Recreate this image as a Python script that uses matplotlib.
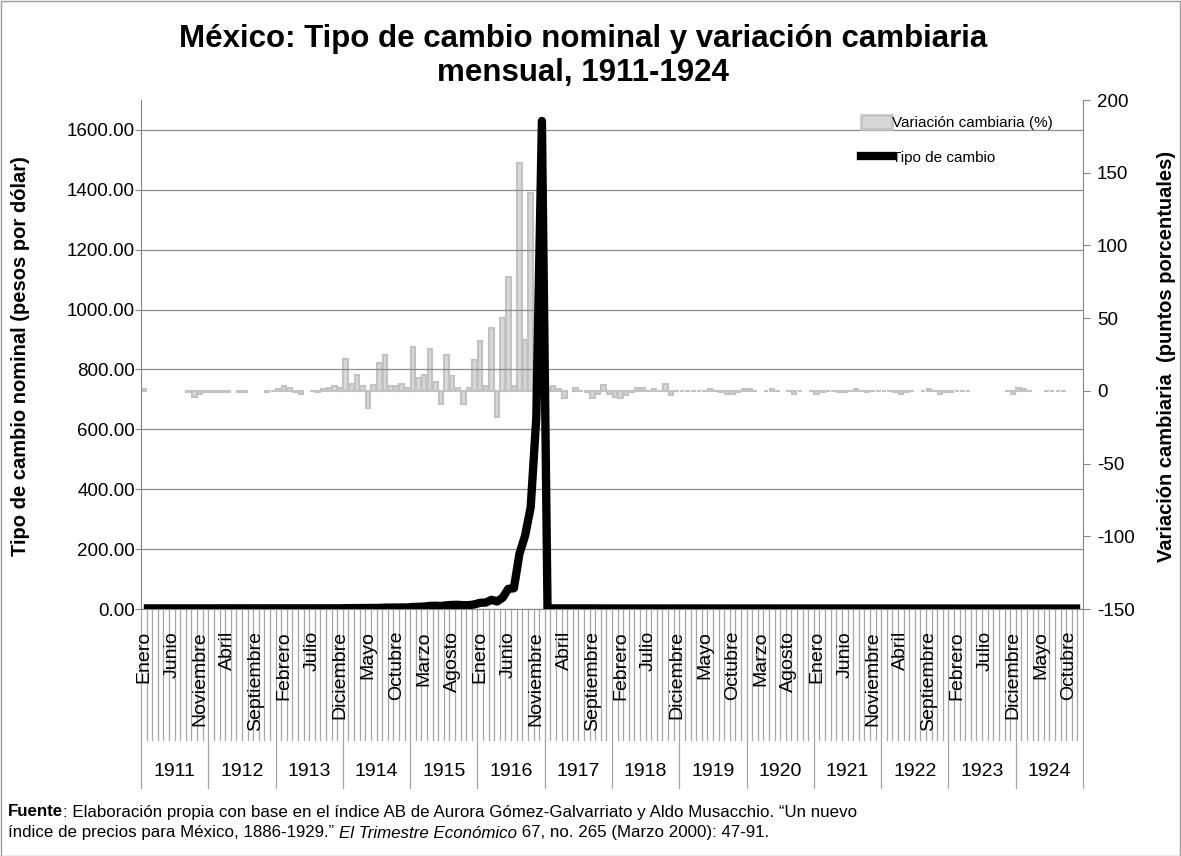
import matplotlib
matplotlib.use("Agg")
import matplotlib.pyplot as plt
import numpy as np
from matplotlib.lines import Line2D
from matplotlib.patches import Patch, Rectangle
from matplotlib.ticker import FixedLocator, FuncFormatter
from matplotlib.transforms import blended_transform_factory

# ── data (monthly, Jan 1911 - Dec 1924) ────────────────────────────────────
MESES = ["Enero", "Febrero", "Marzo", "Abril", "Mayo", "Junio", "Julio",
         "Agosto", "Septiembre", "Octubre", "Noviembre", "Diciembre"]
YEARS = list(range(1911, 1925))

# variación cambiaria, puntos porcentuales (None = no data in the chart)
VAR_1911 = [1, None, None, None, None, None, None, None, -1, -4, -2, -1]
VAR_1912 = [-1, -1, -1, -1, None, -1, -1, None, None, None, -1, 0]
VAR_1913 = [1, 3, 2, -1, -2, None, 0, -1, 1, 2, 3, 2]
VAR_1914 = [22, 5, 11, 3, -12, 4, 19, 25, 3, 3, 5, 2]
VAR_1915 = [30, 9, 11, 29, 6, -9, 25, 10, 2, -9, 2, 21]
VAR_1916 = [34, 3, 43, -18, 50, 78, 3, 157, 35, 136, None, None]
VAR_1917 = [2, 3, 1, -5, None, 2, 0, -1, -5, -2, 4, -2]
VAR_1918 = [-4, -5, -3, -1, 2, 2, 0, 1, 0, 5, -3, 0]
VAR_1919 = [0, 0, 0, 0, 0, 1, 0, -1, -2, -2, -1, 1]
VAR_1920 = [1, 0, None, 0, 1, 0, None, 0, -2, 0, None, 0]
VAR_1921 = [-2, -1, 0, 0, -1, -1, 0, 1, 0, -1, 0, 0]
VAR_1922 = [0, 0, -1, -2, -1, 0, None, 0, 1, 0, -2, -1]
VAR_1923 = [-1, 0, 0, 0, None, None, None, None, None, None, 0, -2]
VAR_1924 = [2, 1, 0, None, None, 0, 0, 0, 0, None, None, None]

# tipo de cambio nominal, pesos por dólar
TC_1911 = [2.01, 2.01, 2.01, 2.01, 2.01, 2.01, 2.01, 2.01, 2.0, 2.0, 2.0, 2.0]
TC_1912 = [2.0, 2.0, 2.0, 2.0, 2.0, 2.0, 2.0, 2.0, 2.0, 2.0, 2.0, 2.0]
TC_1913 = [2.0, 2.05, 2.1, 2.08, 2.05, 2.05, 2.05, 2.05, 2.08, 2.1, 2.2, 2.25]
TC_1914 = [2.8, 2.9, 3.2, 3.3, 2.9, 3.0, 3.6, 4.5, 4.6, 4.8, 5.0, 5.1]
TC_1915 = [6.6, 7.2, 8.0, 10.3, 10.9, 9.9, 12.4, 13.6, 13.9, 12.6, 12.9, 15.6]
TC_1916 = [20.9, 21.5, 30.7, 25.2, 37.8, 67.3, 69.3, 185, 245, 340, 640, 1630]
TC_1917 = [2.0, 2.05, 2.05, 1.95, 1.95, 2.0, 2.0, 2.0, 1.9, 1.85, 1.93, 1.9]
TC_1918 = [1.82, 1.73, 1.68, 1.66, 1.7, 1.73, 1.73, 1.75, 1.75, 1.84, 1.78, 1.78]
TC_1919 = [1.78, 1.78, 1.78, 1.78, 1.78, 1.8, 1.8, 1.78, 1.75, 1.71, 1.7, 1.72]
TC_1920 = [1.74, 1.74, 1.74, 1.74, 1.76, 1.76, 1.76, 1.76, 1.72, 1.72, 1.72, 1.72]
TC_1921 = [1.69, 1.67, 1.67, 1.67, 1.65, 1.63, 1.63, 1.65, 1.65, 1.63, 1.63, 1.63]
TC_1922 = [1.63, 1.63, 1.62, 1.59, 1.57, 1.57, 1.57, 1.57, 1.59, 1.59, 1.56, 1.54]
TC_1923 = [1.53, 1.53, 1.53, 1.53, 1.53, 1.53, 1.53, 1.53, 1.53, 1.53, 1.53, 1.5]
TC_1924 = [1.53, 1.55, 1.55, 1.55, 1.55, 1.55, 1.55, 1.55, 1.55, 1.55, 1.55, 1.55]

TITLE_1 = "México: Tipo de cambio nominal y variación cambiaria"
TITLE_2 = "mensual, 1911-1924"
YLABEL_L = "Tipo de cambio nominal (pesos por dólar)"
YLABEL_R = "Variación cambiaria  (puntos porcentuales)"

BAR_FACE = "#d8d8d8"
BAR_EDGE = "#c2c2c2"
GRID = "#8c8c8c"
AXIS = "#868686"
DIVIDER = "#a6a6a6"

plt.rcParams["font.family"] = ["Liberation Sans", "DejaVu Sans"]

var = [v for year in (VAR_1911, VAR_1912, VAR_1913, VAR_1914, VAR_1915,
                      VAR_1916, VAR_1917, VAR_1918, VAR_1919, VAR_1920,
                      VAR_1921, VAR_1922, VAR_1923, VAR_1924) for v in year]
tc = [v for year in (TC_1911, TC_1912, TC_1913, TC_1914, TC_1915, TC_1916,
                     TC_1917, TC_1918, TC_1919, TC_1920, TC_1921, TC_1922,
                     TC_1923, TC_1924) for v in year]
n = len(tc)
idx = np.arange(n)
has_var = np.array([v is not None for v in var])
var_vals = np.array([v if v is not None else 0 for v in var], dtype=float)

W, H = 1181, 856
fig = plt.figure(figsize=(W / 100, H / 100), dpi=100)
fig.patch.set_facecolor("white")

# plot area in pixels: x 141..1083, y 100..609
x0, x1, y0, y1 = 141, 1083, 100, 609
h_px, w_px = y1 - y0, x1 - x0
ax = fig.add_axes([x0 / W, 1 - y1 / H, w_px / W, h_px / H])
axl = ax.twinx()

# bars on the right scale (primary axes, so the line sits on top)
ax.bar(idx[has_var], var_vals[has_var], width=0.8, color=BAR_FACE,
       edgecolor=BAR_EDGE, linewidth=1.5, zorder=2)
ax.set_ylim(-150, 200)
ax.yaxis.set_major_locator(FixedLocator(np.arange(-150, 201, 50)))
ax.yaxis.set_major_formatter(FuncFormatter(lambda v, p: f"{v:.0f}"))
ax.yaxis.tick_right()
ax.tick_params(axis="y", labelsize=13.5, length=5, color=AXIS, pad=5)
for s in ("top", "left", "bottom"):
    ax.spines[s].set_visible(False)
ax.spines["right"].set_color(AXIS)

# line on the left scale
axl.plot(idx, tc, color="black", lw=6, solid_joinstyle="round",
         solid_capstyle="butt", zorder=3)
axl.set_ylim(0, 1700)
axl.yaxis.set_major_locator(FixedLocator(np.arange(0, 1601, 200)))
axl.yaxis.set_major_formatter(FuncFormatter(lambda v, p: f"{v:.2f}"))
axl.yaxis.tick_left()
axl.tick_params(axis="y", labelsize=13.5, length=4, color=AXIS, pad=0.5)
axl.grid(axis="y", color=GRID, lw=0.9)
axl.set_axisbelow(True)
for s in ("top", "right"):
    axl.spines[s].set_visible(False)
axl.spines["left"].set_color(AXIS)
axl.spines["bottom"].set_color(AXIS)

axl.set_xlim(-0.5, n - 0.5)
axl.set_xticks([])
ax.set_xticks([])

# axis titles placed in figure pixels
fig.text(21 / W, 1 - 356 / H, YLABEL_L, rotation=90, ha="center", va="center",
         fontsize=14.5, fontweight="bold")
fig.text(1166 / W, 1 - 356 / H, YLABEL_R, rotation=90, ha="center", va="center",
         fontsize=14.5, fontweight="bold")

# two-level category axis: month dividers, month names every 5, year row
trans = blended_transform_factory(axl.transData, axl.transAxes)
month_bottom = -(740 - y1) / h_px
year_bottom = -(788 - y1) / h_px
for k in range(n + 1):
    yb = year_bottom if k % 12 == 0 else month_bottom
    axl.add_line(Line2D([k - 0.5, k - 0.5], [0, yb], transform=trans,
                        color=DIVIDER, lw=0.9, clip_on=False))
for i in range(0, n, 5):
    axl.text(i, -(631 - y1) / h_px, MESES[i % 12], transform=trans,
             rotation=90, ha="center", va="top", fontsize=14)
for j, year in enumerate(YEARS):
    axl.text(j * 12 + 5.5, -(772 - y1) / h_px, str(year), transform=trans,
             ha="center", va="center", fontsize=14)

fig.text(583 / W, 1 - 39 / H, TITLE_1, ha="center", va="center",
         fontsize=22.5, fontweight="bold")
fig.text(583 / W, 1 - 73 / H, TITLE_2, ha="center", va="center",
         fontsize=22.5, fontweight="bold")

handles = [Patch(facecolor=BAR_FACE, edgecolor=BAR_EDGE, lw=1.8),
           Line2D([], [], color="black", lw=6)]
axl.legend(handles, ["Variación cambiaria (%)", "Tipo de cambio"],
           loc="upper left", bbox_to_anchor=((855 - x0) / w_px, (y1 - 109) / h_px),
           frameon=False, fontsize=11, handlelength=2.0, handleheight=1.0,
           handletextpad=0.05, labelspacing=1.3, borderaxespad=0)

# source note with mixed weights / italics
renderer = fig.canvas.get_renderer()


def runs(x_px, y_px, parts, size=12.2):
    x = x_px / W
    for text, kw in parts:
        t = fig.text(x, 1 - y_px / H, text, fontsize=size, va="center", **kw)
        x += t.get_window_extent(renderer).width / W


runs(8, 812, [("Fuente", {"fontweight": "bold"}),
              (": Elaboración propia con base en el índice AB de Aurora "
               "Gómez-Galvarriato y Aldo Musacchio. “Un nuevo", {})])
runs(8, 833, [("índice de precios para México, 1886-1929.” ", {}),
              ("El Trimestre Económico", {"style": "italic"}),
              (" 67, no. 265 (Marzo 2000): 47-91.", {})])

fig.add_artist(Rectangle((0.5 / W, 0.5 / H), (W - 1.5) / W, (H - 1.5) / H,
                         transform=fig.transFigure, fill=False,
                         edgecolor="#9a9a9a", lw=1.0))

fig.savefig("out.png", dpi=100)
